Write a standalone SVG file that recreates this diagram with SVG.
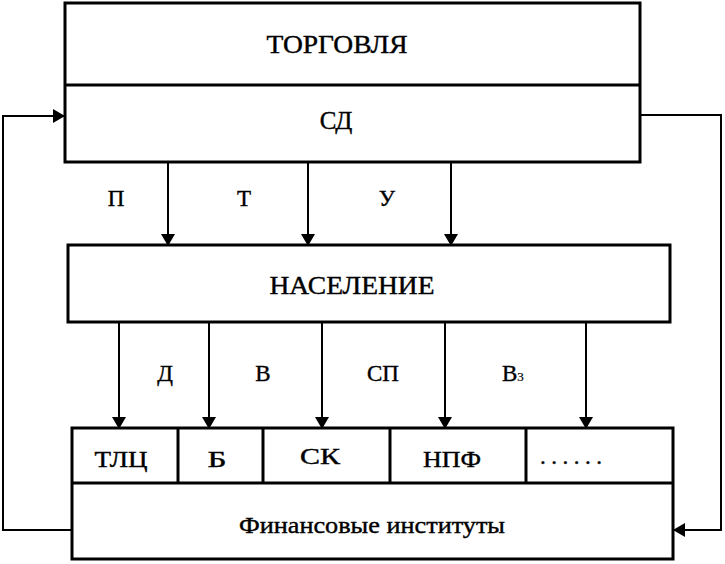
<svg xmlns="http://www.w3.org/2000/svg" width="725" height="564" viewBox="0 0 725 564">
<style>
.box{fill:#fff;stroke:#000;stroke-width:3}
.div{stroke:#000;stroke-width:3;fill:none}
.ln{stroke:#000;stroke-width:2;fill:none}
.t{font-family:"Liberation Serif","Times New Roman",serif;fill:#000;stroke:#000;stroke-width:0.4;text-anchor:middle}
.big{font-size:25px}
.lab{font-size:23px}
</style>
<defs>
<marker id="ah" markerWidth="12" markerHeight="14" refX="11" refY="7" orient="auto" markerUnits="userSpaceOnUse">
<path d="M0,0 L12,7 L0,14 Z" fill="#000"/>
</marker>
</defs>
<rect width="725" height="564" fill="#fff"/>
<g id="torgovlya">
<rect class="box" x="65" y="3" width="575" height="159"/>
<line class="div" x1="65" y1="85" x2="640" y2="85"/>
<text class="t big" x="337" y="53" textLength="141" lengthAdjust="spacingAndGlyphs">ТОРГОВЛЯ</text>
<text class="t big" x="336" y="129">СД</text>
</g>
<g id="naselenie">
<rect class="box" x="68" y="245" width="602" height="77"/>
<text class="t big" x="352" y="294" textLength="165" lengthAdjust="spacingAndGlyphs">НАСЕЛЕНИЕ</text>
</g>
<g id="finansy">
<rect class="box" x="72" y="428" width="601" height="131"/>
<line class="div" x1="72" y1="483" x2="673" y2="483"/>
<line class="div" x1="178" y1="428" x2="178" y2="483"/>
<line class="div" x1="263" y1="428" x2="263" y2="483"/>
<line class="div" x1="390" y1="428" x2="390" y2="483"/>
<line class="div" x1="526" y1="428" x2="526" y2="483"/>
<text class="t lab" x="121" y="467" textLength="53" lengthAdjust="spacingAndGlyphs">ТЛЦ</text>
<text class="t lab" x="217" y="467" textLength="19" lengthAdjust="spacingAndGlyphs">Б</text>
<text class="t lab" x="320" y="464" textLength="40" lengthAdjust="spacingAndGlyphs">СК</text>
<text class="t lab" x="452" y="467" textLength="58" lengthAdjust="spacingAndGlyphs">НПФ</text>
<text class="t lab" x="571" y="464" textLength="62" lengthAdjust="spacing">......</text>
<text class="t lab" x="372" y="533" textLength="266" lengthAdjust="spacingAndGlyphs">Финансовые институты</text>
</g>
<g id="connectors">
<line class="ln" x1="168" y1="162" x2="168" y2="245" marker-end="url(#ah)"/>
<line class="ln" x1="308" y1="162" x2="308" y2="245" marker-end="url(#ah)"/>
<line class="ln" x1="451" y1="162" x2="451" y2="245" marker-end="url(#ah)"/>
<line class="ln" x1="119" y1="322" x2="119" y2="428" marker-end="url(#ah)"/>
<line class="ln" x1="209" y1="322" x2="209" y2="428" marker-end="url(#ah)"/>
<line class="ln" x1="322" y1="322" x2="322" y2="428" marker-end="url(#ah)"/>
<line class="ln" x1="445" y1="322" x2="445" y2="428" marker-end="url(#ah)"/>
<line class="ln" x1="586" y1="322" x2="586" y2="428" marker-end="url(#ah)"/>
<polyline class="ln" points="72,530 3,530 3,116 64,116" marker-end="url(#ah)"/>
<polyline class="ln" points="640,115 721,115 721,530 674,530" marker-end="url(#ah)"/>
<text class="t lab" x="116" y="206">П</text>
<text class="t lab" x="244" y="206">Т</text>
<text class="t lab" x="387" y="206">У</text>
<text class="t lab" x="165" y="381">Д</text>
<text class="t lab" x="263" y="381">В</text>
<text class="t lab" x="383" y="381">СП</text>
<text class="t lab" x="502" y="381" style="text-anchor:start">В<tspan font-size="13" stroke-width="0.2">3</tspan></text>
</g>
</svg>
